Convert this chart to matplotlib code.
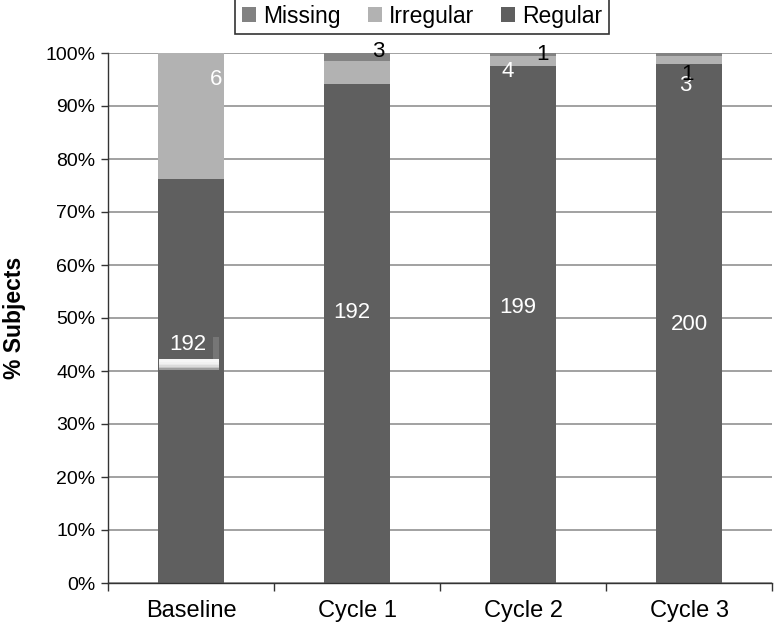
import matplotlib.pyplot as plt
import numpy as np
from matplotlib.patches import Rectangle

plt.rcParams['font.family'] = ['Liberation Sans', 'DejaVu Sans']

# 数据
categories = ['Baseline', 'Cycle 1', 'Cycle 2', 'Cycle 3']
regular_pct = [76.2, 94.2, 97.5, 98.0]
irregular_pct = [23.8, 4.2, 2.0, 1.5]
missing_pct = [0.0, 1.6, 0.5, 0.5]

# 图上的数字标签 (类别序号, 文本, 颜色)
labels_regular = ['192', '192', '199', '200']
labels_small = [(0, '6', 'white'), (1, '3', 'black'), (2, '4', 'white'),
                (2, '1', 'black'), (3, '3', 'white'), (3, '1', 'black')]

# 标签位置 (x偏移, y%)
pos_regular = [(-0.02, 45.0), (-0.03, 51.0), (-0.03, 52.0), (0.0, 48.7)]
pos_small = [(0.15, 95.0), (0.13, 100.3), (-0.09, 96.6),
             (0.12, 99.8), (-0.02, 93.9), (-0.01, 96.0)]

c_regular = '#5f5f5f'
c_irregular = '#b2b2b2'
c_missing = '#828282'

fig = plt.figure(figsize=(7.74, 6.24), dpi=100)
ax = fig.add_axes([108 / 774, 41 / 624, 664 / 774, 530 / 624])

x = np.arange(len(categories))
w = 0.4
reg = np.array(regular_pct)
irr = np.array(irregular_pct)
mis = np.array(missing_pct)

ax.bar(x, reg, w, color=c_regular, label='Regular', zorder=2)
ax.bar(x, irr, w, bottom=reg, color=c_irregular, label='Irregular', zorder=2)
ax.bar(x, mis, w, bottom=reg + irr, color=c_missing, label='Missing', zorder=2)

# 网格线
ax.set_yticks(np.arange(0, 101, 10))
ax.set_yticklabels([f'{v}%' for v in range(0, 101, 10)], fontsize=14)
ax.yaxis.grid(True, color='#9a9a9a', linewidth=1.3, zorder=0)
ax.set_axisbelow(True)

ax.set_xlim(-0.5, 3.5)
ax.set_ylim(0, 100)
ax.set_xticks(x)
ax.set_xticklabels(categories, fontsize=17)
ax.tick_params(axis='x', length=0, pad=12)
ax.set_xticks(np.arange(-0.5, 4, 1), minor=True)
ax.tick_params(axis='x', which='minor', length=6, color='#333333', width=1)
ax.tick_params(axis='y', length=5, color='#333333', width=1, pad=4)

for s in ['top', 'right']:
    ax.spines[s].set_visible(False)
for s in ['left', 'bottom']:
    ax.spines[s].set_color('#333333')
    ax.spines[s].set_linewidth(1.0)

ax.set_ylabel('% Subjects', fontsize=16.5, fontweight='bold')
ax.yaxis.set_label_coords(-0.124, 0.5)

# 白色模糊条 (原图中的瑕疵)
for i in range(6):
    ax.add_patch(Rectangle((-0.19, 40.2 + i * 0.3), 0.36, 2.0 - i * 0.3,
                           facecolor='white', alpha=0.4, linewidth=0, zorder=3))
ax.add_patch(Rectangle((0.13, 42.0), 0.04, 4.5, facecolor='white',
                       alpha=0.15, linewidth=0, zorder=3))

for i, t in enumerate(labels_regular):
    dx, yy = pos_regular[i]
    ax.text(x[i] + dx, yy, t, color='white', fontsize=16,
            ha='center', va='center', zorder=4)
for (i, t, col), (dx, yy) in zip(labels_small, pos_small):
    ax.text(x[i] + dx, yy, t, color=col, fontsize=16,
            ha='center', va='center', zorder=4)

# 图例
h, l = ax.get_legend_handles_labels()
order = [2, 1, 0]
leg = fig.legend([h[k] for k in order], [l[k] for k in order],
                 loc='center', bbox_to_anchor=(422 / 774, 1 - 16 / 624),
                 ncol=3, fontsize=16.5, frameon=True, fancybox=False,
                 handlelength=0.6, handleheight=0.6, handletextpad=0.3,
                 columnspacing=1.2, borderpad=0.3)
leg.get_frame().set_edgecolor('black')
leg.get_frame().set_linewidth(1.2)

plt.savefig('out.png', dpi=100)
